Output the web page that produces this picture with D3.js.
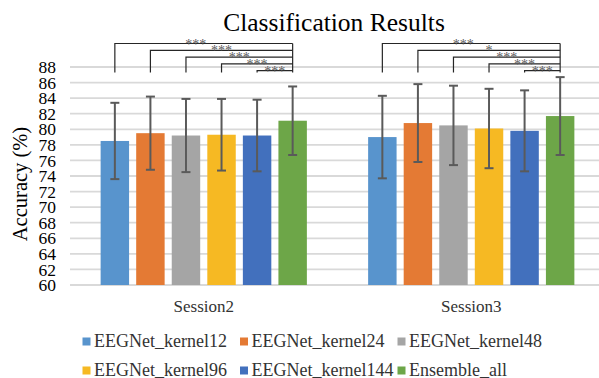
<!DOCTYPE html>
<html>
<head>
<meta charset="utf-8">
<script src="https://cdn.jsdelivr.net/npm/d3@7"></script>
<style>
  body { margin: 0; background: #fff; }
  svg { display: block; }
  svg text { font-family: "Liberation Serif", "Times New Roman", Tinos, Times, "DejaVu Serif", serif; }
</style>
</head>
<body>
<svg id="chart" width="599" height="378"></svg>
<script>
// data
const sessions = ["Session2", "Session3"];
const models = ["EEGNet_kernel12", "EEGNet_kernel24", "EEGNet_kernel48",
                "EEGNet_kernel96", "EEGNet_kernel144", "Ensemble_all"];
const colors = ["#5894cd", "#e47a34", "#a5a5a5", "#f6b923", "#4270bd", "#6da648"];

const meanS2 = [78.5, 79.5, 79.2, 79.3, 79.2, 81.1];
const errS2  = [4.9, 4.7, 4.7, 4.6, 4.6, 4.4];
const meanS3 = [79.0, 80.8, 80.5, 80.1, 79.8, 81.7];
const errS3  = [5.3, 5.0, 5.1, 5.1, 5.2, 5.0];

// significance vs Ensemble_all
const sigS2 = ["***", "***", "***", "***", "***"];
const sigS3 = ["***", "*", "***", "***", "***"];

const yTicks = d3.range(60, 89, 2);

const svg = d3.select("#chart");
const W = 599, H = 378;
const margin = {top: 67, bottom: 93, left: 70, right: -6};

const x0 = d3.scaleBand()
    .domain(sessions)
    .range([margin.left, W - margin.right])
    .padding(0);

const groupW = x0.bandwidth() * 0.771;
const x1 = d3.scaleBand()
    .domain(models)
    .range([(x0.bandwidth() - groupW) / 2, (x0.bandwidth() + groupW) / 2])
    .paddingInner(0.2)
    .paddingOuter(0);

const y = d3.scaleLinear()
    .domain([60, 88])
    .range([H - margin.bottom, margin.top]);

const color = d3.scaleOrdinal().domain(models).range(colors);

// gridlines
svg.append("g")
    .selectAll("line")
    .data(yTicks)
    .join("line")
    .attr("x1", margin.left).attr("x2", W)
    .attr("y1", d => y(d)).attr("y2", d => y(d))
    .attr("stroke", "#d9d9d9")
    .attr("stroke-width", 1.8);

// y axis labels
svg.append("g")
    .attr("transform", `translate(${margin.left - 14},0)`)
    .call(d3.axisLeft(y).tickValues(yTicks).tickSize(0).tickPadding(0))
    .call(g => g.attr("font-family", null).attr("font-size", null))
    .call(g => g.select(".domain").remove())
    .call(g => g.selectAll("text")
        .attr("font-size", 17.5)
        .attr("fill", "#000"));

svg.append("text")
    .attr("transform", `translate(27,${(y(60) + y(88)) / 2 + 8}) rotate(-90)`)
    .attr("text-anchor", "middle")
    .attr("font-size", 20.5)
    .attr("fill", "#000")
    .text("Accuracy (%)");

// title
svg.append("text")
    .attr("x", 334).attr("y", 30.5)
    .attr("text-anchor", "middle")
    .attr("font-size", 25.5)
    .attr("fill", "#000")
    .text("Classification Results");

const rows = sessions.map((s, i) => ({
    session: s,
    values: models.map((m, j) => ({
        model: m,
        mean: i === 0 ? meanS2[j] : meanS3[j],
        err: i === 0 ? errS2[j] : errS3[j]
    })),
    sig: i === 0 ? sigS2 : sigS3
}));

const groups = svg.append("g")
    .selectAll("g")
    .data(rows)
    .join("g")
    .attr("transform", d => `translate(${x0(d.session)},0)`);

// bars
groups.selectAll("rect")
    .data(d => d.values)
    .join("rect")
    .attr("x", d => x1(d.model))
    .attr("width", x1.bandwidth())
    .attr("y", d => y(d.mean))
    .attr("height", d => y(60) - y(d.mean))
    .attr("fill", d => color(d.model));

// error bars
const capW = 4.5;
const eb = groups.selectAll("g.err")
    .data(d => d.values)
    .join("g")
    .attr("class", "err")
    .attr("stroke", "#5a5a5a")
    .attr("stroke-width", 2);
eb.append("line")
    .attr("x1", d => x1(d.model) + x1.bandwidth() / 2)
    .attr("x2", d => x1(d.model) + x1.bandwidth() / 2)
    .attr("y1", d => y(d.mean + d.err))
    .attr("y2", d => y(d.mean - d.err));
eb.selectAll("line.cap")
    .data(d => [d.mean + d.err, d.mean - d.err].map(v => ({v, m: d.model})))
    .join("line")
    .attr("class", "cap")
    .attr("x1", d => x1(d.m) + x1.bandwidth() / 2 - capW)
    .attr("x2", d => x1(d.m) + x1.bandwidth() / 2 + capW)
    .attr("y1", d => y(d.v))
    .attr("y2", d => y(d.v));

// significance brackets
const cx = m => x1(m) + x1.bandwidth() / 2;
const last = models[models.length - 1];
const dropY = y(87.3);
groups.each(function(d) {
    const g = d3.select(this);
    const br = g.append("g");
    d.sig.forEach((s, k) => {
        const ly = 43.5 + k * 6.8;
        const xa = cx(models[k]), xb = cx(last);
        br.append("path")
            .attr("d", `M${xa},${dropY}V${ly}H${xb}`)
            .attr("fill", "none")
            .attr("stroke", "#262626")
            .attr("stroke-width", 1.2);
        br.append("text")
            .attr("x", (xa + xb) / 2 - (k === 0 ? 8 : 0))
            .attr("y", ly + 5)
            .attr("text-anchor", "middle")
            .attr("font-size", 14)
            .attr("fill", "#595959")
            .text(s);
    });
    br.append("line")
        .attr("x1", cx(last)).attr("x2", cx(last))
        .attr("y1", 43.5).attr("y2", dropY)
        .attr("stroke", "#262626")
        .attr("stroke-width", 1.2);
});

// category labels
svg.append("g")
    .selectAll("text")
    .data(sessions)
    .join("text")
    .attr("x", d => x0(d) + x0.bandwidth() / 2)
    .attr("y", 312)
    .attr("text-anchor", "middle")
    .attr("font-size", 17)
    .attr("fill", "#333")
    .text(d => d);

// legend
const leg = svg.append("g")
    .selectAll("g")
    .data(models)
    .join("g")
    .attr("transform", (d, i) => `translate(${82.5 + (i % 3) * 157.5},${i < 3 ? 346.5 : 375.5})`);
leg.append("rect")
    .attr("x", 0).attr("y", -9)
    .attr("width", 8).attr("height", 8)
    .attr("fill", d => color(d));
leg.append("text")
    .attr("x", 11.5).attr("y", 0)
    .attr("font-size", 18)
    .attr("fill", "#333")
    .text(d => d);
</script>
</body>
</html>
